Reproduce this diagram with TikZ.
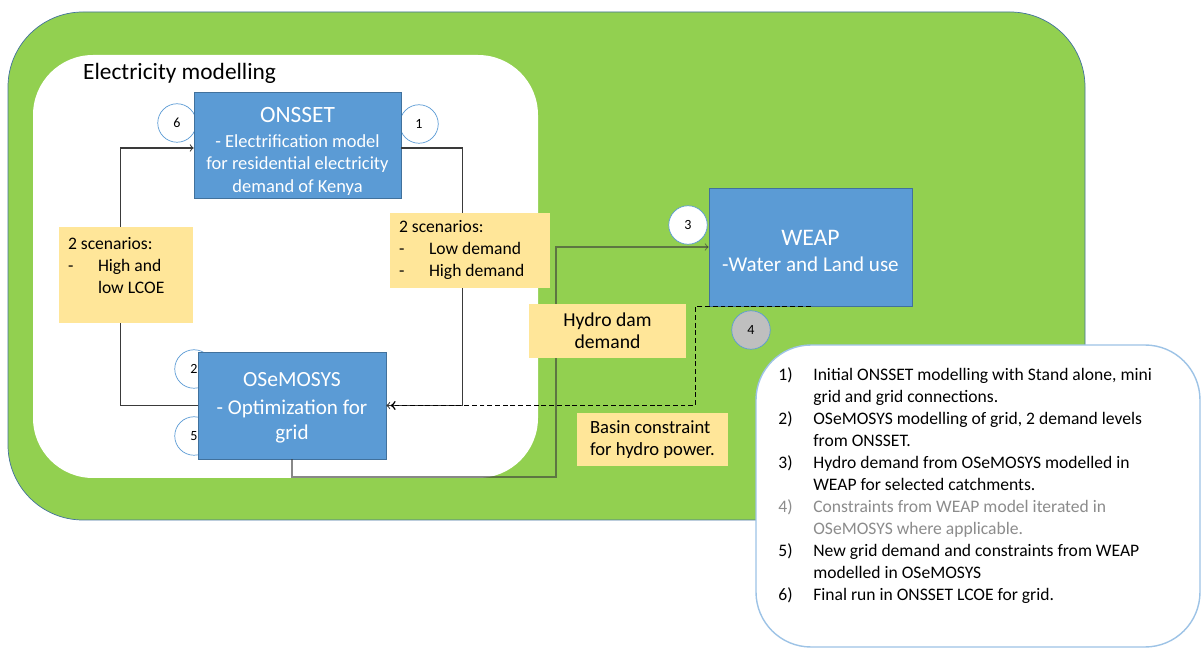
\documentclass[tikz,border=0pt]{standalone}
\usepackage{fontspec}
\setmainfont{Carlito}
\usetikzlibrary{positioning}
\definecolor{grassgreen}{HTML}{92D050}
\definecolor{darkblue}{HTML}{41719C}
\definecolor{modelblue}{HTML}{5B9BD5}
\definecolor{lightblue}{HTML}{9DC3E6}
\definecolor{noteyellow}{HTML}{FFE699}
\definecolor{stepgray}{HTML}{BFBFBF}
\definecolor{fadedtext}{HTML}{8C8C8C}
\definecolor{linegray}{HTML}{3A3A3A}

\begin{document}
\begin{tikzpicture}[x=0.02cm, y=-0.02cm,
  model/.style={draw=darkblue, fill=modelblue, text=white, align=center, inner sep=0pt},
  note/.style={fill=noteyellow, inner sep=0pt, align=left, font=\fontsize{10}{12.5}\selectfont},
  stepmark/.style={circle, draw=modelblue, fill=white, minimum size=0.77cm, inner sep=0pt, font=\fontsize{8}{9}\selectfont},
  link/.style={draw=linegray, line width=0.6pt}]
  \useasboundingbox (0,0) rectangle (1201,648);
  \clip (0,0) rectangle (1201,648);

  \draw[darkblue, fill=grassgreen, rounded corners=1.5cm] (8,12) rectangle (1085,520);
  \fill[white, rounded corners=1.2cm] (33,55) rectangle (538,478);
  \node[anchor=west, font=\fontsize{13.3}{15}\selectfont] (elecmodelling) at (77,73) {Electricity modelling};

  \node[stepmark] (step6) at (177,123) {6};
  \node[stepmark] (step1) at (419,124) {1};
  \node[stepmark] (step2) at (194,369) {2};
  \node[stepmark] (step5) at (194,436) {5};
  \node[stepmark] (step3) at (688,225) {3};
  \node[stepmark, fill=stepgray] (step4) at (751,330) {4};

  \node[model, minimum width=4.14cm, minimum height=2.12cm, font=\fontsize{10.5}{13}\selectfont] (onsset) at (297.5,145) {\rule{0pt}{16pt}{\fontsize{13.3}{16}\selectfont ONSSET}\\[1pt] - Electrification model\\ for residential electricity\\ demand of Kenya};
  \node[model, minimum width=3.76cm, minimum height=2.14cm, font=\fontsize{12}{14.5}\selectfont] (osemosys) at (292,405.5) {\rule{0pt}{11pt}{\fontsize{12.3}{15}\selectfont OSeMOSYS}\\[1pt] - Optimization for\\ grid};
  \node[model, minimum width=4.06cm, minimum height=2.36cm, font=\fontsize{12}{14.7}\selectfont] (weap) at (810.5,247) {\rule{0pt}{13pt}{\fontsize{13.5}{16}\selectfont WEAP}\\ -Water and Land use};

  \coordinate (hydroturn) at (556,477);
  \draw[link, ->] (osemosys.west) -- ++(-77,0) |- ([yshift=-1.7pt]onsset.west);
  \draw[link, ->] ([yshift=-1.7pt]onsset.east) -- ++(61,0) |- (osemosys.east);
  \draw[link, draw opacity=0.6, ->] (osemosys.south) |- (hydroturn) |- (weap.west);
  \draw[link, draw=black, line width=0.9pt, dash pattern=on 2.8pt off 1.6pt, ->, shorten >=2.5pt] (weap.south) -- ++(-115,0) |- (osemosys.east);

  \node[note, minimum width=2.68cm, minimum height=1.92cm] (lcoenote) at (126,275) {\parbox[c][1.62cm][t]{2.32cm}{\begin{tabular}{@{}p{0.6cm}@{}l@{}}
    \multicolumn{2}{@{}l}{2 scenarios:}\\ - & High and\\ & low LCOE\end{tabular}}};
  \node[note, minimum width=3.2cm, minimum height=1.5cm] (demandnote) at (470,250.5) {\parbox{2.84cm}{\begin{tabular}{@{}p{0.6cm}@{}l@{}}
    \multicolumn{2}{@{}l}{2 scenarios:}\\ - & Low demand\\ - & High demand\end{tabular}}};
  \node[note, align=center, minimum width=3.14cm, minimum height=1.08cm, font=\fontsize{11.2}{12.5}\selectfont] (hydronote) at (607.5,331) {Hydro dam\\ demand};
  \node[note, minimum width=3.02cm, minimum height=1.06cm, font=\fontsize{10.6}{12.5}\selectfont] (basinnote) at (652.5,439.5) {\parbox{2.5cm}{Basin constraint\\ for hydro power.}};

  \draw[lightblue, fill=white, line width=0.8pt, rounded corners=1.1cm] (756,345) rectangle (1200,647);
  \node[anchor=north west, inner sep=0pt, font=\fontsize{10}{12.5}\selectfont] (steplist) at (778,365) {\begin{tabular}{@{}p{0.7cm}@{}l@{}}
    1) & Initial ONSSET modelling with Stand alone, mini\\
       & grid and grid connections.\\
    2) & OSeMOSYS modelling of grid, 2 demand levels\\
       & from ONSSET.\\
    3) & Hydro demand from OSeMOSYS modelled in\\
       & WEAP for selected catchments.\\
    \textcolor{fadedtext}{4)} & \textcolor{fadedtext}{Constraints from WEAP model iterated in}\\
       & \textcolor{fadedtext}{OSeMOSYS where applicable.}\\
    5) & New grid demand and constraints from WEAP\\
       & modelled in OSeMOSYS\\
    6) & Final run in ONSSET LCOE for grid.
  \end{tabular}};
\end{tikzpicture}
\end{document}
